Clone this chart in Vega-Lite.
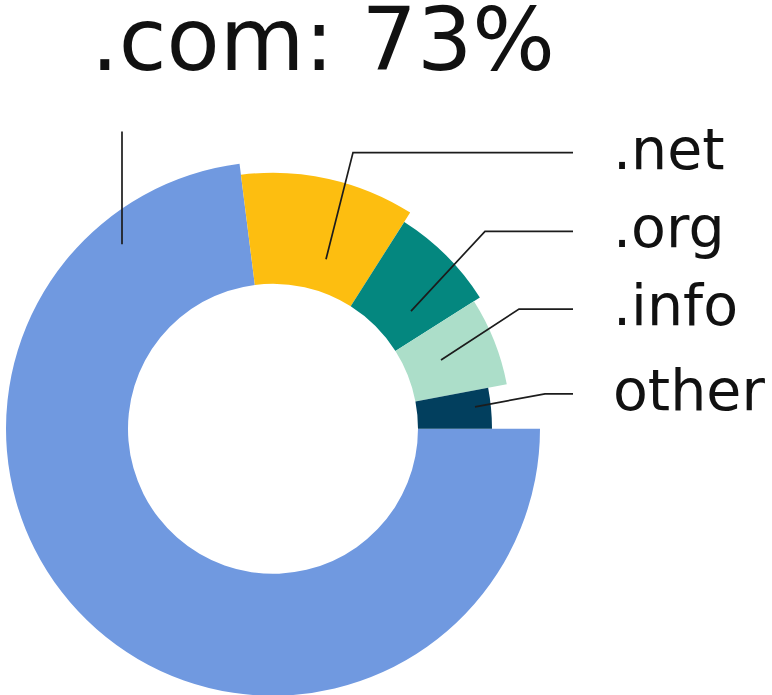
{
  "$schema": "https://vega.github.io/schema/vega-lite/v6.json",
  "width": 772,
  "height": 695,
  "autosize": {"type": "fit", "contains": "padding"},
  "padding": 0,
  "background": "white",
  "config": {"view": {"stroke": null}},
  "datasets": {
    "shares": [
      {"label": ".com", "value": 73},
      {"label": ".net", "value": 11},
      {"label": ".org", "value": 7},
      {"label": ".info", "value": 6},
      {"label": "other", "value": 3}
    ],
    "leaders": [
      {"label": ".com", "seq": 1, "x": -151, "y": 185},
      {"label": ".com", "seq": 2, "x": -151, "y": 298},
      {"label": ".net", "seq": 1, "x": 53, "y": 170},
      {"label": ".net", "seq": 2, "x": 80, "y": 277},
      {"label": ".net", "seq": 3, "x": 300, "y": 277},
      {"label": ".org", "seq": 1, "x": 138, "y": 118},
      {"label": ".org", "seq": 2, "x": 212, "y": 198},
      {"label": ".org", "seq": 3, "x": 300, "y": 198},
      {"label": ".info", "seq": 1, "x": 168, "y": 69},
      {"label": ".info", "seq": 2, "x": 246, "y": 120},
      {"label": ".info", "seq": 3, "x": 300, "y": 120},
      {"label": "other", "seq": 1, "x": 202, "y": 22},
      {"label": "other", "seq": 2, "x": 272, "y": 35},
      {"label": "other", "seq": 3, "x": 300, "y": 35}
    ],
    "labels": [
      {"label": ".net", "x": 300, "y": 277},
      {"label": ".org", "x": 300, "y": 198},
      {"label": ".info", "x": 300, "y": 120},
      {"label": "other", "x": 300, "y": 35}
    ],
    "headline": [
      {"text": ".com: 73%", "x": 50, "y": 360}
    ]
  },
  "layer": [
    {
      "data": {"name": "shares"},
      "mark": {"type": "arc", "innerRadius": 145},
      "encoding": {
        "x": {"datum": 0, "type": "quantitative", "scale": {"domain": [-273, 499], "nice": false, "zero": false}, "axis": null},
        "y": {"datum": 0, "type": "quantitative", "scale": {"domain": [-265, 430], "nice": false, "zero": false}, "axis": null},
        "theta": {"field": "value", "type": "quantitative", "stack": true, "scale": {"range": [1.5708, 7.854]}},
        "radius": {"field": "value", "type": "quantitative", "scale": {"type": "linear", "domain": [3, 6, 7, 11, 73], "range": [219, 238, 245, 256, 267], "zero": false}},
        "color": {"field": "label", "type": "nominal", "legend": null, "scale": {"domain": [".com", ".net", ".org", ".info", "other"], "range": ["#7099e0", "#fdbe10", "#04877f", "#acdec9", "#023f5e"]}},
        "order": {"field": "value", "type": "quantitative", "sort": "descending"}
      }
    },
    {
      "data": {"name": "leaders"},
      "mark": {"type": "line", "color": "#1c1c1c", "strokeWidth": 1.7},
      "encoding": {
        "x": {"field": "x", "type": "quantitative", "scale": {"domain": [-273, 499], "nice": false, "zero": false}, "axis": null},
        "y": {"field": "y", "type": "quantitative", "scale": {"domain": [-265, 430], "nice": false, "zero": false}, "axis": null},
        "detail": {"field": "label"},
        "order": {"field": "seq", "type": "quantitative"}
      }
    },
    {
      "data": {"name": "labels"},
      "mark": {"type": "text", "align": "left", "baseline": "alphabetic", "dx": 40, "dy": 16, "font": "DejaVu Sans", "fontSize": 57, "color": "#111111"},
      "encoding": {
        "x": {"field": "x", "type": "quantitative", "scale": {"domain": [-273, 499], "nice": false, "zero": false}, "axis": null},
        "y": {"field": "y", "type": "quantitative", "scale": {"domain": [-265, 430], "nice": false, "zero": false}, "axis": null},
        "text": {"field": "label"}
      }
    },
    {
      "data": {"name": "headline"},
      "mark": {"type": "text", "align": "center", "baseline": "alphabetic", "font": "DejaVu Sans", "fontSize": 87, "color": "#111111"},
      "encoding": {
        "x": {"field": "x", "type": "quantitative", "scale": {"domain": [-273, 499], "nice": false, "zero": false}, "axis": null},
        "y": {"field": "y", "type": "quantitative", "scale": {"domain": [-265, 430], "nice": false, "zero": false}, "axis": null},
        "text": {"field": "text"}
      }
    }
  ]
}
